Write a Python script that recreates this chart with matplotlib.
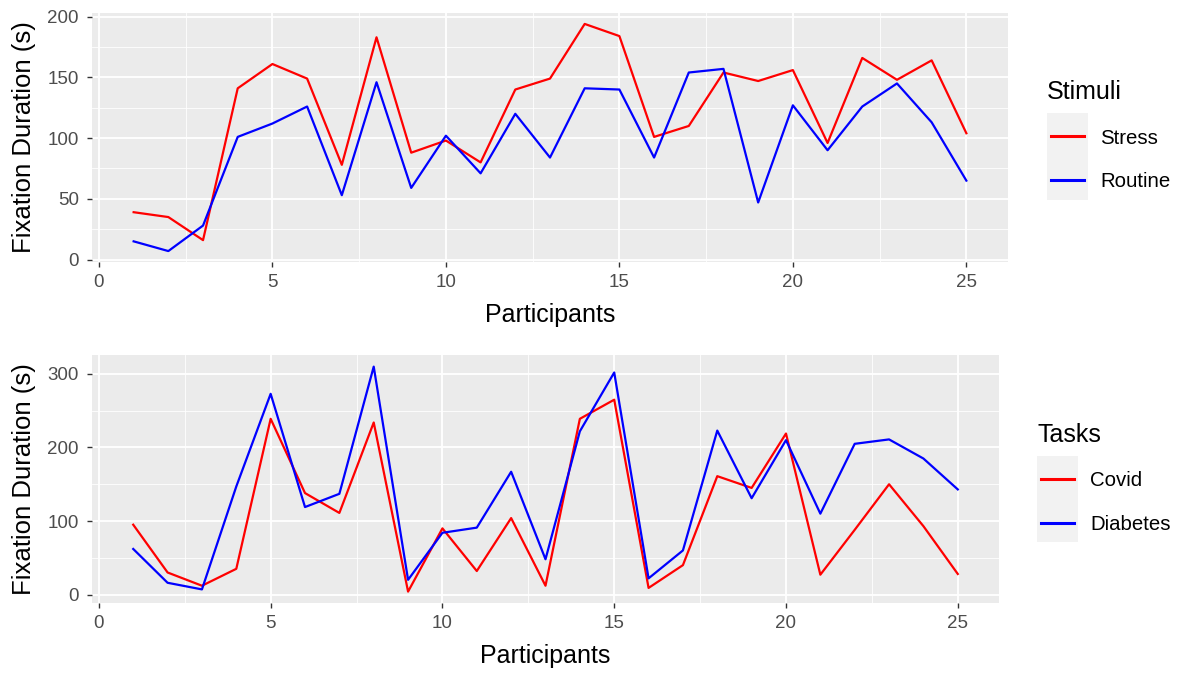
import numpy as np
import matplotlib.pyplot as plt
from matplotlib.patches import Rectangle
from matplotlib.ticker import MultipleLocator

plt.rcParams['font.family'] = ['Liberation Sans', 'DejaVu Sans']

participants = np.arange(1, 26)

# Fixation durations per stimulus type (s)
stress = [39, 35, 16, 141, 161, 149, 78, 183, 88, 98, 80, 140, 149,
          194, 184, 101, 110, 154, 147, 156, 96, 166, 148, 164, 104]
routine = [15, 7, 28, 101, 112, 126, 53, 146, 59, 102, 71, 120, 84,
           141, 140, 84, 154, 157, 47, 127, 90, 126, 145, 113, 65]

# Fixation durations per task (s)
covid = [95, 30, 12, 35, 239, 138, 111, 234, 4, 90, 32, 104, 12,
         239, 265, 9, 40, 161, 145, 219, 27, 88, 150, 93, 28]
diabetes = [62, 16, 7, 147, 273, 119, 137, 310, 20, 84, 91, 167, 48,
            222, 302, 22, 60, 223, 131, 210, 110, 205, 211, 185, 143]

W, H = 1179, 673
fig = plt.figure(figsize=(W / 100, H / 100), dpi=100)


def panel(rect, series, ylim, ymajor, title, key_box):
    l, t, r, b = rect
    ax = fig.add_axes([l / W, 1 - b / H, (r - l) / W, (b - t) / H])
    ax.set_facecolor('#EBEBEB')
    for name, vals, col in series:
        ax.plot(participants, vals, color=col, lw=1.6, label=name)
    ax.set_xlim(-0.2, 26.2)
    ax.set_ylim(*ylim)
    ax.xaxis.set_major_locator(MultipleLocator(5))
    ax.xaxis.set_minor_locator(MultipleLocator(2.5))
    ax.yaxis.set_major_locator(MultipleLocator(ymajor))
    ax.yaxis.set_minor_locator(MultipleLocator(ymajor / 2))
    ax.grid(which='major', color='white', lw=1.3)
    ax.grid(which='minor', color='white', lw=0.6)
    ax.set_axisbelow(True)
    for s in ax.spines.values():
        s.set_visible(False)
    ax.tick_params(which='major', length=3.5, width=1, color='#333333',
                   labelsize=13.5, labelcolor='#4D4D4D')
    ax.tick_params(axis='y', pad=6)
    ax.tick_params(axis='x', pad=5)
    ax.tick_params(which='minor', length=0)
    ax.set_xlabel('Participants', fontsize=18, labelpad=9)
    ax.set_ylabel('Fixation Duration (s)', fontsize=18.5, labelpad=8)

    # grey key background, ggplot style
    kx0, ky0, kx1, ky1 = key_box
    fig.patches.append(Rectangle((kx0 / W, 1 - ky1 / H), (kx1 - kx0) / W,
                                 (ky1 - ky0) / H, transform=fig.transFigure,
                                 facecolor='#F2F2F2', edgecolor='none', zorder=-1))
    leg = ax.legend(loc='upper left',
                    bbox_to_anchor=((kx0 + 4) / W, 1 - (ky0 - 33) / H),
                    bbox_transform=fig.transFigure, frameon=False, title=title,
                    alignment='left', fontsize=14.7, title_fontsize=18,
                    handlelength=1.6, handletextpad=0.8, labelspacing=1.2,
                    borderpad=0, borderaxespad=0)
    leg._legend_title_box._text.set_x(-4)
    for ln in leg.get_lines():
        ln.set_linewidth(2.2)
    return ax


panel((92, 13, 1008, 262),
      [('Stress', stress, '#FF0000'), ('Routine', routine, '#0000FF')],
      (-2, 203), 50, 'Stimuli', (1047, 113, 1088, 200))
panel((92, 355, 999, 603),
      [('Covid', covid, '#FF0000'), ('Diabetes', diabetes, '#0000FF')],
      (-11.5, 325.8), 100, 'Tasks', (1037, 456, 1078, 542))

fig.savefig('out.png', dpi=100)
